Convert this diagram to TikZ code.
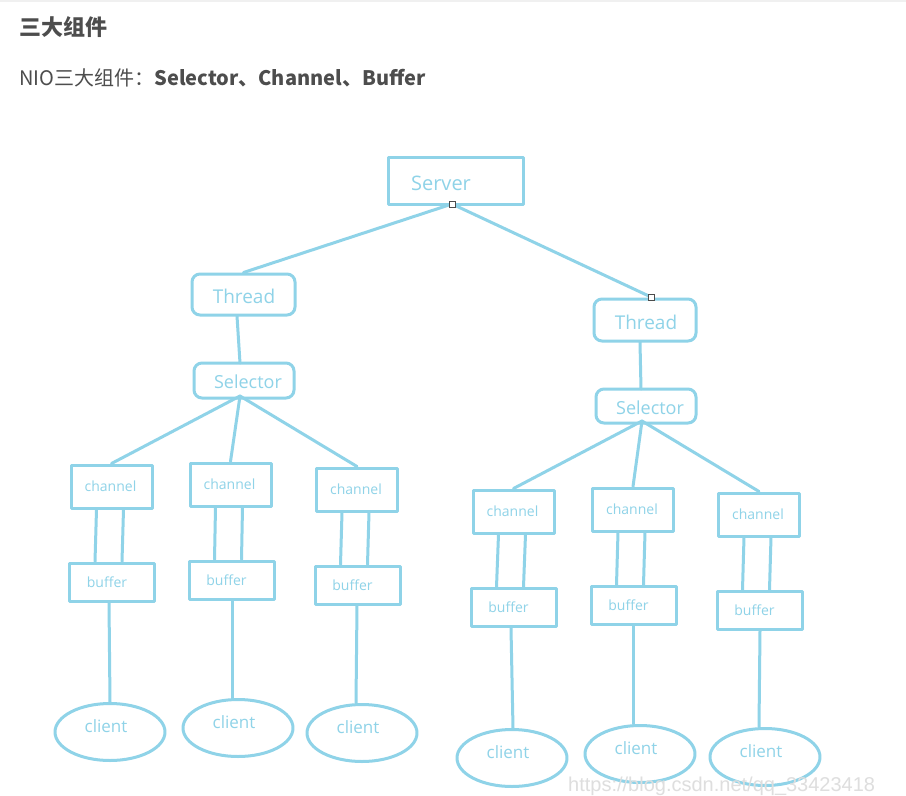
\documentclass[tikz,border=0pt]{standalone}
\usepackage{fontspec}
\setmainfont{Open Sans}
\newfontfamily\cjk{Noto Sans CJK SC}
\newfontfamily\wmfont{Liberation Sans}
\usetikzlibrary{calc,shapes.geometric}
\definecolor{sk}{RGB}{143,211,232}
\definecolor{hd}{RGB}{77,77,77}
\tikzset{
  x=1pt, y=-1pt,
  sline/.style={draw=sk, line width=3pt, line cap=round, line join=round},
  box/.style={sline, inner sep=0pt, fill=white},
  rbox/.style={box, rounded corners=8pt},
  oval/.style={sline, ellipse, inner sep=0pt},
  lbl/.style={text=sk, inner sep=0pt, anchor=center},
  sqmark/.style={draw=black!70, fill=white, line width=0.8pt, minimum size=6pt, inner sep=0pt},
}
\begin{document}
\begin{tikzpicture}
\fill[white] (0,0) rectangle (906,796);
\useasboundingbox (0,0) rectangle (906,796);
\fill[black!6] (0,0) rectangle (906,2);
% header
\node[anchor=west, text=hd, inner sep=0pt, font=\cjk\bfseries\fontsize{22}{26}\selectfont] (title) at (19,27) {三大组件};
\node[anchor=west, text=hd, inner sep=0pt, font=\cjk\fontsize{20}{24}\selectfont] (sub) at (19,78) {NIO三大组件：\textbf{Selector、Channel、Buffer}};

% Server / Threads / Selectors
\node[box, minimum width=135pt, minimum height=47pt] (server) at (455.5,180.5) {};
\node[lbl, font=\fontsize{20}{24}\selectfont] (serverT) at (441,183) {Server};
\node[rbox, minimum width=103pt, minimum height=41pt] (thL) at (243.5,294.5) {};
\node[lbl, font=\fontsize{19}{23}\selectfont] (thLT) at (244,296) {Thread};
\node[rbox, minimum width=102pt, minimum height=42pt] (thR) at (645,320) {};
\node[lbl, font=\fontsize{19}{23}\selectfont] (thRT) at (646,322) {Thread};
\node[rbox, minimum width=100pt, minimum height=35pt] (seL) at (244,380.5) {};
\node[lbl, font=\fontsize{18}{22}\selectfont] (seLT) at (248,382) {Selector};
\node[rbox, minimum width=100pt, minimum height=34pt] (seR) at (646,406) {};
\node[lbl, font=\fontsize{18}{22}\selectfont] (seRT) at (650,408) {Selector};

\coordinate (sp) at (452,204);
\coordinate (tp) at (651,297);
\coordinate (thLb) at (237,316);
\coordinate (seLt) at (240,363);
\coordinate (thRb) at (640,342);
\coordinate (seRt) at (641,389);
\coordinate (seLb) at (240,396);
\coordinate (seRb) at (642,421);
\draw[sline] (sp) -- (thL.north);
\draw[sline] (sp) -- (tp);
\draw[sline] (thLb) -- (seLt);
\draw[sline] (thRb) -- (seRt);

% channels, buffers, clients
\foreach \n/\cx/\cy/\bx/\by/\kx/\ky/\la/\lb in {
  1/111.5/486.5/112/582/110/732/109/110,
  2/230.5/484.5/231.5/580/238/728/232/232,
  3/357/489.5/357.5/585/362/733/357/356,
  4/513.5/511.5/513.5/607.5/512/758/511/513,
  5/633/509.5/633.5/605.5/640/754/633/633,
  6/759/514.5/759.5/610.5/765/757/760/759}{
  \node[box, minimum width=81pt, minimum height=43pt] (ch\n) at (\cx,\cy) {};
  \node[lbl, font=\fontsize{14}{17}\selectfont] (ch\n T) at (\cx-1,\cy) {channel};
  \node[box, minimum width=85pt, minimum height=38pt] (bu\n) at (\bx,\by) {};
  \node[lbl, font=\fontsize{14}{17}\selectfont] (bu\n T) at (\bx-5,\by) {buffer};
  \node[oval, minimum width=110pt, minimum height=57pt] (cl\n) at (\kx,\ky) {};
  \node[lbl, font=\fontsize{17}{20}\selectfont] (cl\n T) at (\kx-4,\ky-6) {client};
  \coordinate (la\n) at (\la,0);
  \coordinate (lb\n) at (\lb,0);
  \draw[sline] ($(ch\n.south)+(-15,0)$) -- ($(bu\n.north)+(-17,0)$);
  \draw[sline] ($(ch\n.south)+(12,0)$) -- ($(bu\n.north)+(10,0)$);
  \draw[sline] (bu\n.south -| la\n) -- (cl\n.north -| lb\n);
}
\draw[sline] (seLb) -- (ch1.north);
\draw[sline] (seLb) -- (ch2.north);
\draw[sline] (seLb) -- (ch3.north);
\draw[sline] (seRb) -- (ch4.north);
\draw[sline] (seRb) -- (ch5.north);
\draw[sline] (seRb) -- (ch6.north);

\node[sqmark] (m1) at (sp) {};
\node[sqmark] (m2) at (tp) {};

\node[anchor=west, inner sep=0pt, text=black!13, font=\wmfont\fontsize{20}{24}\selectfont] (wm) at (568,786) {https://blog.csdn.net/qq\_33423418};
\end{tikzpicture}
\end{document}
